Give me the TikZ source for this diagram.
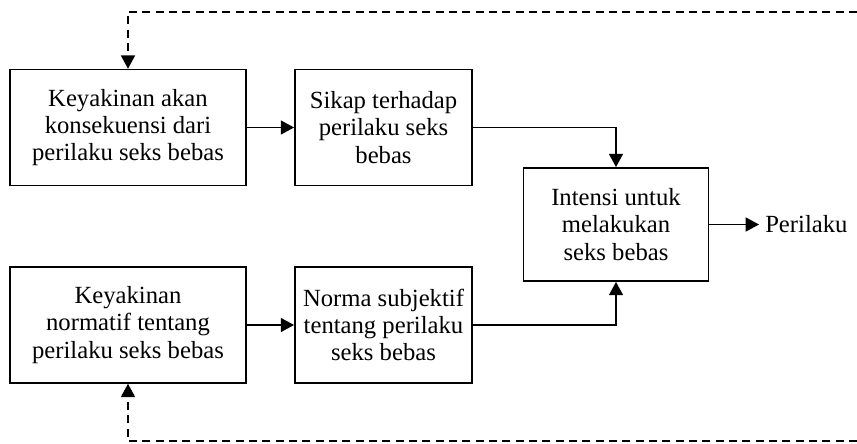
\documentclass[tikz,border=0pt]{standalone}
\usepackage{fontspec}
\setmainfont{Liberation Serif}
\usepackage{tikz}
\usetikzlibrary{arrows.meta,positioning}

\begin{document}
\begin{tikzpicture}[
    x=0.75pt, y=-0.75pt,
    tpbox/.style={draw=black, line width=1.1pt, align=center,
      minimum height=87pt, inner sep=2pt,
      font=\fontsize{18.5}{20.3}\selectfont},
    widebox/.style={tpbox, minimum width=177pt},
    narrowbox/.style={tpbox, minimum width=133pt},
    arrow/.style={-{Triangle[length=10pt,width=10.5pt]}, line width=1.1pt},
    feedback/.style={arrow, dash pattern=on 6pt off 4pt}
  ]
    \useasboundingbox (0,0) rectangle (857,443);

    \node[widebox] (belief) at (128,127.5) {Keyakinan akan\\konsekuensi dari\\perilaku seks bebas};
    \node[narrowbox] (attitude) at (383.5,127.5) {Sikap terhadap\\perilaku seks\\bebas};
    \node[widebox] (normbelief) at (128,325) {Keyakinan\\normatif tentang\\perilaku seks bebas};
    \node[narrowbox] (subjnorm) at (383.5,325) {Norma subjektif\\tentang perilaku\\seks bebas};
    \node[tpbox, minimum width=139pt, minimum height=85pt] (intent) at (616,224.5) {Intensi untuk\\melakukan\\seks bebas};
    \node[anchor=west, inner sep=4.5pt, font=\fontsize{18.5}{20.3}\selectfont] (behav) at (759,224.5) {Perilaku};

    \coordinate (fbtop) at (857,12);
    \coordinate (fbbot) at (857,441);

    \draw[arrow] (belief) -- (attitude);
    \draw[arrow] (normbelief) -- (subjnorm);
    \draw[arrow] (attitude.east) -| (intent.north);
    \draw[arrow] (subjnorm.east) -| (intent.south);
    \draw[arrow] (intent) -- (behav);
    \draw[feedback] (fbtop) -| (belief.north);
    \draw[feedback] (fbbot) -| (normbelief.south);
  \end{tikzpicture}
\end{document}
